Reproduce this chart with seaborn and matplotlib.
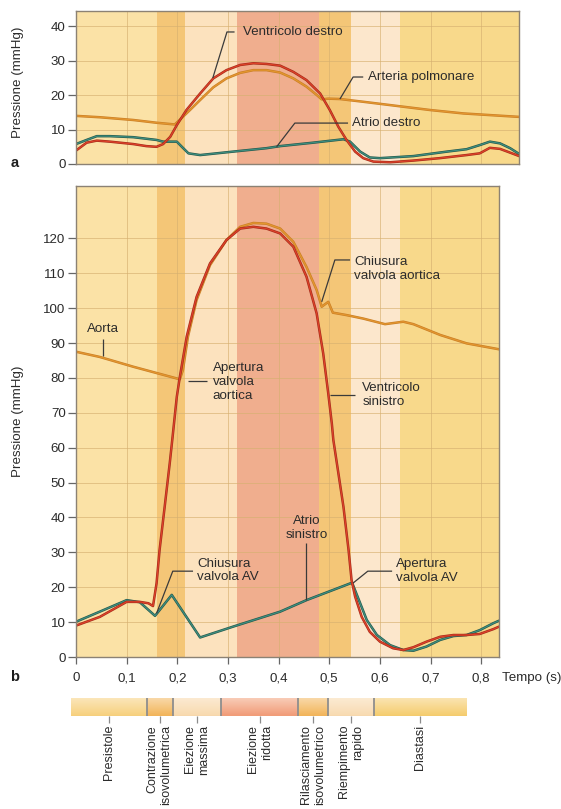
import numpy as np
import matplotlib
matplotlib.use("Agg")
import matplotlib.pyplot as plt
import matplotlib.transforms as mtransforms
from matplotlib import patheffects as pe
from matplotlib.colors import to_rgb
import seaborn as sns

# ---------------- data ----------------
# cardiac-cycle phases (s)
phase_names = ["Presistole", "Contrazione\nisovolumetrica", "Eiezione\nmassima",
               "Eiezione\nridotta", "Rilasciamento\nisovolumetrico",
               "Riempimento\nrapido", "Diastasi"]
phase_edges = [0.0, 0.160, 0.215, 0.318, 0.480, 0.543, 0.640, 0.835]
phase_colors = ["#FBE2A6", "#F4C677", "#FCE2BE", "#F0AE8E", "#F4C677", "#FCE7CC", "#F8D98B"]
phase_bar_colors = ["#F7D07C", "#F2B458", "#F8D9AE", "#F19A76", "#F2B458", "#F8DAB0", "#F5CC6C"]

time_ticks = [0.0, 0.1, 0.2, 0.3, 0.4, 0.5, 0.6, 0.7, 0.8]
time_labels = ["0", "0,1", "0,2", "0,3", "0,4", "0,5", "0,6", "0,7", "0,8"]

# (a) right heart
rv_t = [0.0, 0.021, 0.041, 0.067, 0.113, 0.139, 0.159, 0.172, 0.186, 0.199, 0.218,
        0.245, 0.271, 0.297, 0.324, 0.35, 0.376, 0.403, 0.429, 0.455, 0.482, 0.501,
        0.518, 0.534, 0.551, 0.567, 0.587, 0.62, 0.666, 0.718, 0.771, 0.797, 0.817,
        0.837, 0.857, 0.875]
rv_p = [3.9, 6.2, 6.8, 6.5, 5.8, 5.2, 5.0, 5.8, 7.9, 11.3, 15.7,
        20.5, 24.9, 27.3, 28.8, 29.3, 29.1, 28.6, 26.8, 24.4, 20.5, 15.7,
        10.8, 7.0, 3.6, 1.7, 0.7, 0.5, 1.0, 1.7, 2.6, 3.1, 4.7,
        4.4, 3.3, 2.3]

pa_t = [0.0, 0.047, 0.113, 0.159, 0.195, 0.208, 0.225, 0.245, 0.271, 0.297, 0.324,
        0.35, 0.376, 0.403, 0.429, 0.455, 0.475, 0.485, 0.498, 0.521, 0.567, 0.633,
        0.699, 0.765, 0.875]
pa_p = [14.0, 13.6, 12.8, 12.0, 11.5, 13.3, 15.7, 18.6, 22.3, 24.9, 26.5,
        27.3, 27.3, 26.6, 24.9, 22.5, 20.1, 18.8, 19.0, 18.9, 18.1, 16.9,
        15.7, 14.7, 13.7]

ra_t = [0.0, 0.021, 0.041, 0.067, 0.113, 0.159, 0.172, 0.199, 0.209, 0.222, 0.245,
        0.31, 0.376, 0.403, 0.468, 0.528, 0.541, 0.561, 0.58, 0.6, 0.666, 0.732,
        0.771, 0.797, 0.817, 0.837, 0.857, 0.875]
ra_p = [5.8, 7.0, 8.1, 8.1, 7.8, 7.0, 6.5, 6.5, 5.0, 3.1, 2.6,
        3.6, 4.6, 5.2, 6.2, 7.2, 6.5, 3.6, 1.9, 1.7, 2.3, 3.6,
        4.3, 5.5, 6.5, 6.0, 4.6, 2.9]

# (b) left heart
lv_t = [0.0, 0.047, 0.1, 0.126, 0.143, 0.152, 0.159, 0.165, 0.175, 0.185, 0.19,
        0.199, 0.205, 0.2185, 0.238, 0.2645, 0.297, 0.324, 0.35, 0.376, 0.403,
        0.429, 0.455, 0.475, 0.488, 0.498, 0.505, 0.508, 0.518, 0.528, 0.538,
        0.544, 0.551, 0.564, 0.58, 0.6, 0.626, 0.646, 0.666, 0.692, 0.719,
        0.745, 0.771, 0.797, 0.824, 0.835]
lv_p = [9.0, 11.5, 15.8, 15.8, 15.4, 14.6, 21.1, 30.7, 43.0, 55.5, 62.2,
        74.6, 80.3, 91.8, 103.2, 112.8, 119.5, 122.8, 123.3, 122.8, 121.4,
        117.6, 109.0, 98.5, 87.0, 75.5, 66.9, 62.2, 52.6, 43.0, 30.7,
        22.0, 17.3, 11.5, 7.2, 4.4, 2.5, 2.0, 2.8, 4.4, 5.8,
        6.3, 6.3, 6.6, 8.0, 8.7]

ao_t = [0.0, 0.047, 0.113, 0.205, 0.211, 0.221, 0.238, 0.2645, 0.297, 0.324, 0.35,
        0.376, 0.403, 0.429, 0.455, 0.475, 0.485, 0.498, 0.507, 0.534, 0.567,
        0.61, 0.646, 0.666, 0.719, 0.771, 0.835]
ao_p = [87.5, 86.0, 83.2, 79.6, 82.2, 91.8, 102.3, 112.3, 119.5, 123.3, 124.4,
        124.2, 122.8, 119.0, 111.8, 105.2, 100.4, 101.8, 98.7, 98.0, 97.0,
        95.4, 96.1, 95.4, 92.3, 89.9, 88.2]

la_t = [0.0, 0.047, 0.1, 0.126, 0.156, 0.189, 0.245, 0.31, 0.403, 0.455, 0.545,
        0.561, 0.574, 0.594, 0.62, 0.646, 0.666, 0.692, 0.719, 0.745, 0.771,
        0.797, 0.824, 0.835]
la_p = [10.1, 13.0, 16.3, 15.7, 11.8, 17.8, 5.6, 8.7, 13.0, 16.3, 21.3,
        15.4, 10.6, 6.3, 3.4, 2.0, 1.8, 3.0, 4.9, 6.0, 6.3,
        7.7, 9.7, 10.4]

# ---------------- style ----------------
sns.set_theme(style="ticks")
plt.rcParams["font.family"] = ["Liberation Sans", "DejaVu Sans"]

W, H = 561, 809
fig = plt.figure(figsize=(W / 100, H / 100), dpi=100)
fig.patch.set_facecolor("white")


def frac_box(left, top, right, bottom):
    return [left / W, 1 - bottom / H, (right - left) / W, (bottom - top) / H]


RED, ORANGE, TEAL = "#DE4128", "#E3962F", "#3F8E7E"
SPINE = "#8C8274"
TXT = "#2B2B2B"
LEAD = "#3A3A3A"
FS = 9.6
FS_PHASE = 9.0


def styled_line(ax, t, p, color, edge):
    sns.lineplot(x=t, y=p, ax=ax, color=color, lw=0.9, sort=False, estimator=None)
    ax.lines[-1].set_path_effects([pe.Stroke(linewidth=1.8, foreground=edge), pe.Normal()])


def panel(ax, xmax, ymax, yticks):
    for i in range(len(phase_colors)):
        x0 = phase_edges[i]
        x1 = phase_edges[i + 1] if i < len(phase_colors) - 1 else xmax
        ax.axvspan(x0, x1, color=phase_colors[i], lw=0, zorder=0)
    ax.set_xlim(0, xmax)
    ax.set_ylim(0, ymax)
    ax.set_xticks(time_ticks)
    ax.set_yticks(yticks)
    ax.set_yticklabels([str(v) for v in yticks], fontsize=FS, color=TXT)
    ax.grid(True, color="#D6B070", lw=0.6, alpha=0.75, zorder=1)
    ax.set_axisbelow(True)
    for s in ax.spines.values():
        s.set_color(SPINE)
        s.set_linewidth(1.0)
        s.set_visible(True)
    ax.tick_params(axis="y", length=6, width=0.9, color="#666666", pad=1.5)
    ax.set_xlabel("")
    ax.set_ylabel("")


def leader(ax, pts):
    xs, ys = zip(*pts)
    ax.plot(xs, ys, color=LEAD, lw=0.9, zorder=5, solid_capstyle="butt")


# ---------------- (a) ----------------
axa = fig.add_axes(frac_box(76, 11, 519, 164))
panel(axa, 0.8745, 44.5, [0, 10, 20, 30, 40])
axa.tick_params(axis="x", length=0, labelbottom=False)
styled_line(axa, pa_t, pa_p, ORANGE, "#C97E26")
styled_line(axa, ra_t, ra_p, TEAL, "#24574C")
styled_line(axa, rv_t, rv_p, RED, "#A32C1C")

leader(axa, [(0.27, 25.0), (0.298, 38.4), (0.313, 38.4)])
axa.text(0.330, 38.4, "Ventricolo destro", fontsize=FS, color=TXT, va="center")
leader(axa, [(0.521, 18.9), (0.547, 25.3), (0.567, 25.3)])
axa.text(0.576, 25.3, "Arteria polmonare", fontsize=FS, color=TXT, va="center")
leader(axa, [(0.396, 5.0), (0.432, 11.9), (0.537, 11.9)])
axa.text(0.545, 11.9, "Atrio destro", fontsize=FS, color=TXT, va="center")

# ---------------- (b) ----------------
axb = fig.add_axes(frac_box(76, 186, 499, 657))
panel(axb, 0.835, 135, list(range(0, 121, 10)))
axb.set_xticklabels(time_labels, fontsize=FS, color=TXT)
axb.tick_params(axis="x", length=5, width=0.9, color="#666666", pad=6)
styled_line(axb, ao_t, ao_p, ORANGE, "#C97E26")
styled_line(axb, la_t, la_p, TEAL, "#24574C")
styled_line(axb, lv_t, lv_p, RED, "#A32C1C")

leader(axb, [(0.053, 86.2), (0.053, 91.2)])
axb.text(0.053, 94.1, "Aorta", fontsize=FS, color=TXT, ha="center", va="center")
leader(axb, [(0.221, 79.1), (0.258, 79.1)])
axb.text(0.270, 78.8, "Apertura\nvalvola\naortica", fontsize=FS, color=TXT, va="center")
leader(axb, [(0.485, 101.8), (0.511, 113.8), (0.541, 113.8)])
axb.text(0.549, 111.3, "Chiusura\nvalvola aortica", fontsize=FS, color=TXT, va="center")
leader(axb, [(0.501, 75.1), (0.551, 75.1)])
axb.text(0.565, 75.2, "Ventricolo\nsinistro", fontsize=FS, color=TXT, va="center")
leader(axb, [(0.159, 12.5), (0.191, 24.6), (0.231, 24.6)])
axb.text(0.239, 24.8, "Chiusura\nvalvola AV", fontsize=FS, color=TXT, va="center")
leader(axb, [(0.455, 16.3), (0.455, 32.7)])
axb.text(0.455, 37.0, "Atrio\nsinistro", fontsize=FS, color=TXT, ha="center", va="center")
leader(axb, [(0.547, 21.2), (0.576, 24.6), (0.624, 24.6)])
axb.text(0.632, 24.6, "Apertura\nvalvola AV", fontsize=FS, color=TXT, va="center")

# ---------------- phase bar ----------------
axc = fig.add_axes(frac_box(71, 698, 466, 716))
axc.set_xlim(0, phase_edges[-1])
axc.set_ylim(0, 1)
grad = np.linspace(0, 1, 64)[:, None]
for i, c in enumerate(phase_bar_colors):
    rgb = np.array(to_rgb(c))
    light = 0.45 * rgb + 0.55 * np.array([1.0, 0.98, 0.95])
    img = light[None, None, :] * (grad[:, :, None]) + rgb[None, None, :] * (1 - grad[:, :, None])
    axc.imshow(img, extent=(phase_edges[i], phase_edges[i + 1], 0, 1),
               origin="lower", aspect="auto", interpolation="bilinear", zorder=1)
for e in phase_edges[1:-1]:
    axc.axvline(e, color="#8E8E8E", lw=1.3, zorder=3)
axc.axhline(0, color="#E2C28C", lw=0.8, zorder=2)
for s in axc.spines.values():
    s.set_visible(False)
centers = [(phase_edges[i] + phase_edges[i + 1]) / 2 for i in range(len(phase_names))]
axc.set_xticks(centers)
axc.set_yticks([])
axc.tick_params(axis="x", length=5, width=0.9, color="#8C8C8C", labelbottom=False)
blend = mtransforms.blended_transform_factory(axc.transData, axc.transAxes)
for c, name in zip(centers, phase_names):
    axc.text(c, -0.5, name, rotation=90, ha="center", va="top", multialignment="right",
             fontsize=FS_PHASE, color=TXT, transform=blend, clip_on=False)

# ---------------- labels ----------------
fig.text(18 / W, 1 - 82 / H, "Pressione (mmHg)", rotation=90, ha="center", va="center",
         fontsize=FS, color=TXT)
fig.text(18 / W, 1 - 421 / H, "Pressione (mmHg)", rotation=90, ha="center", va="center",
         fontsize=FS, color=TXT)
fig.text(502 / W, 1 - 678 / H, "Tempo (s)", ha="left", va="center", fontsize=FS, color=TXT)
fig.text(15 / W, 1 - 163 / H, "a", ha="center", va="center", fontsize=10.5,
         fontweight="bold", color="#1E1E1E")
fig.text(15 / W, 1 - 677 / H, "b", ha="center", va="center", fontsize=10.5,
         fontweight="bold", color="#1E1E1E")

fig.savefig("out.png", dpi=100, facecolor="white")
